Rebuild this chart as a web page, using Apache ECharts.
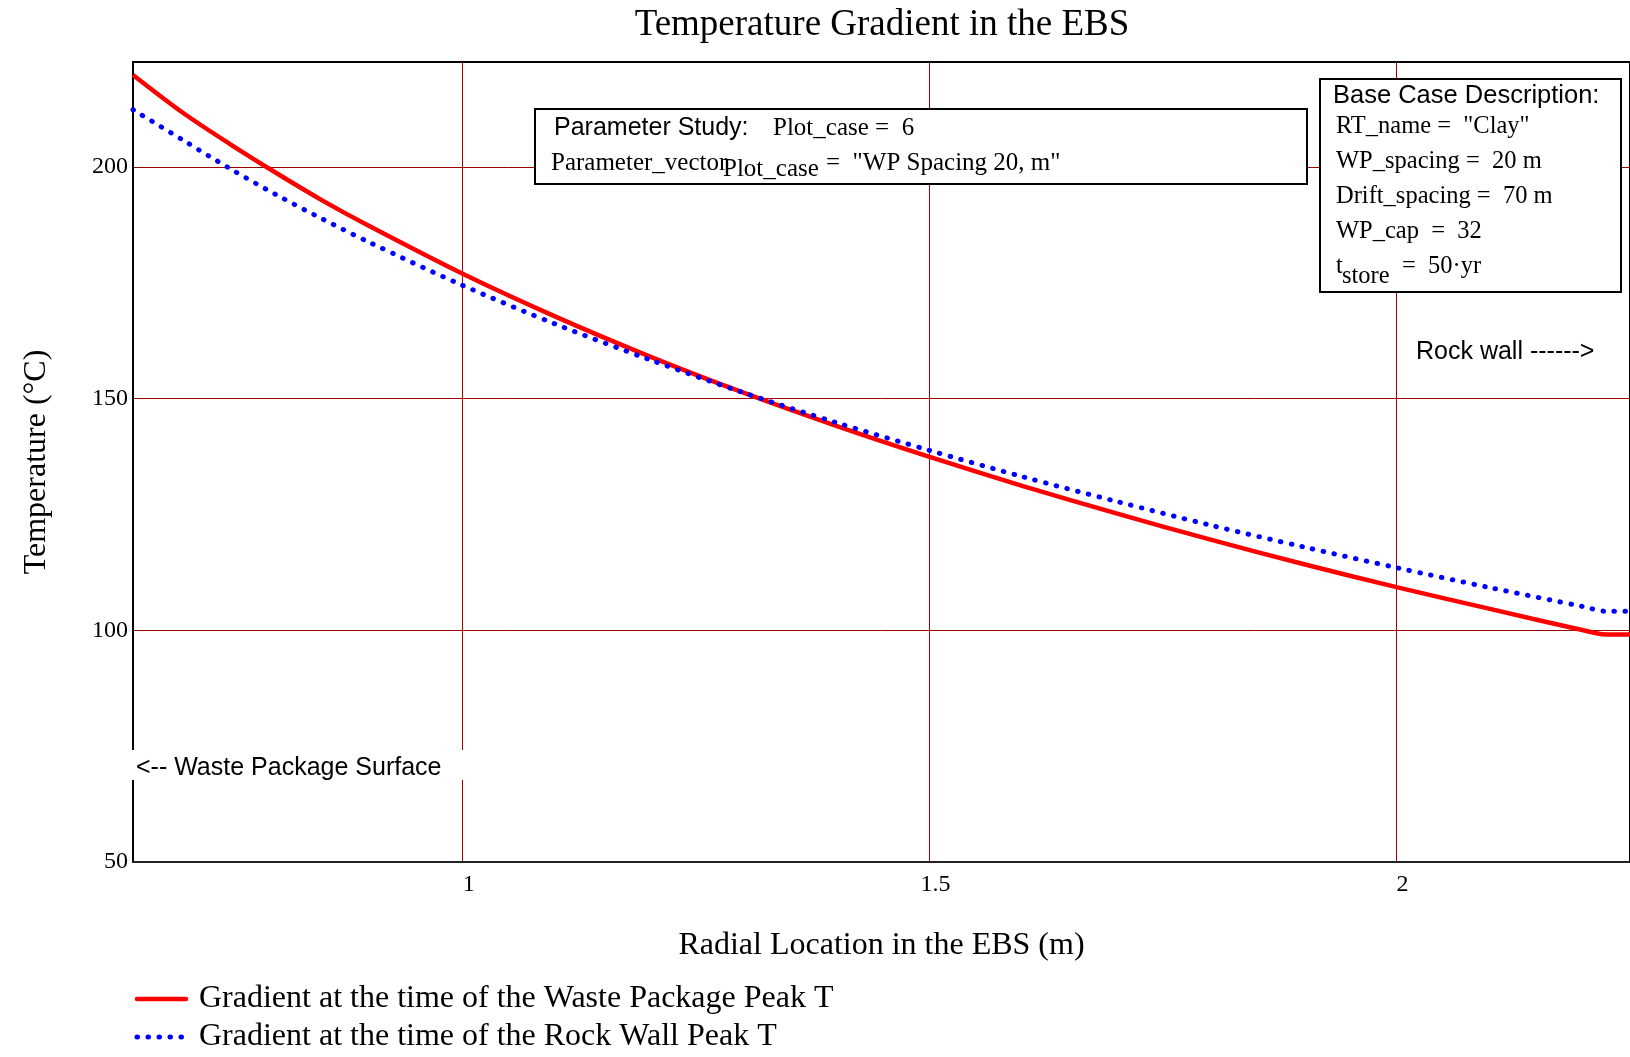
<!DOCTYPE html>
<html>
<head>
<meta charset="utf-8">
<title>Temperature Gradient in the EBS</title>
<script src="https://cdn.jsdelivr.net/npm/echarts@6/dist/echarts.min.js"></script>
<style>
  html, body { margin: 0; padding: 0; background: #fff; }
  #chart { width: 1630px; height: 1057px; }
</style>
</head>
<body>
<div id="chart"></div>
<script>
// Radial location in the EBS (m)
const radius = [0.647, 0.7, 0.75, 0.8, 0.85, 0.9, 1.0, 1.1, 1.2, 1.3, 1.4, 1.5, 1.6, 1.7, 1.8, 1.9, 2.0, 2.1, 2.2, 2.224, 2.26];
// Temperature (°C) at the time of the waste package peak
const wpPeakT = [219.8, 211.7, 205.0, 198.7, 192.7, 187.2, 176.9, 167.6, 159.1, 151.3, 144.1, 137.4, 131.1, 125.2, 119.6, 114.3, 109.3, 104.6, 100.0, 99.1, 99.1];
// Temperature (°C) at the time of the rock wall peak
const rwPeakT = [212.3, 205.8, 199.7, 194.0, 188.7, 183.7, 174.4, 166.0, 158.4, 151.3, 144.8, 138.8, 133.1, 127.8, 122.7, 118.0, 113.5, 109.2, 105.1, 104.1, 104.1];

const xTicks = [1, 1.5, 2];
const yTicks = [50, 100, 150, 200];

const seriesNames = [
  'Gradient at the time of the Waste Package Peak T',
  'Gradient at the time of the Rock Wall Peak T'
];

const SERIF = '"Liberation Serif", "Times New Roman", serif';
const SANS = '"Liberation Sans", Arial, sans-serif';
const GRID_RED = '#9a0000';
const RED = '#ff0000';
const BLUE = '#0000ff';
const RED_LINE = { color: RED, width: 4.5 };
const BLUE_LINE = { color: BLUE, width: 5, dash: [0.5, 10.5] };

function pairs(xs, ys) { return xs.map((x, i) => [x, ys[i]]); }

function txt(text, x, y, font, size) {
  return {
    type: 'text', z: 101,
    style: { text: text, x: x, y: y, fontFamily: font, fontSize: size, fill: '#000',
             textAlign: 'left', textVerticalAlign: 'middle' }
  };
}

// legend row: line sample plus its label
function legendRow(y, line, label) {
  return [
    { type: 'line', z: 101, shape: { x1: 137, y1: y, x2: 186, y2: y },
      style: { stroke: line.color, lineWidth: line.width, lineDash: line.dash || null, lineCap: 'round' } },
    txt(label, 199, y, SERIF, 32)
  ];
}

const chart = echarts.init(document.getElementById('chart'), null, { renderer: 'canvas' });

chart.setOption({
  animation: false,
  backgroundColor: '#fff',
  grid: {
    left: 133, right: -3, top: 62, bottom: 195,
    show: true, borderColor: '#000', borderWidth: 2, backgroundColor: 'transparent'
  },
  xAxis: {
    type: 'value', min: 0.647, max: 2.25,
    name: 'Radial Location in the EBS (m)', nameLocation: 'middle', nameGap: 68,
    nameTextStyle: { fontFamily: SERIF, fontSize: 32, color: '#000' },
    axisLine: { show: true, onZero: false, lineStyle: { color: '#222', width: 2 } },
    axisTick: { show: false, customValues: xTicks },
    axisLabel: { customValues: xTicks, margin: 11, padding: [0, 0, 0, 12],
                 fontFamily: SERIF, fontSize: 24, color: '#000' },
    splitLine: { show: true, lineStyle: { color: GRID_RED, width: 1 } }
  },
  yAxis: {
    type: 'value', min: 50, max: 222.6,
    name: 'Temperature (°C)', nameLocation: 'middle', nameGap: 80, nameRotate: 90,
    nameTextStyle: { fontFamily: SERIF, fontSize: 32, color: '#000' },
    axisLine: { show: true, onZero: false, lineStyle: { color: '#000', width: 2 } },
    axisTick: { show: false, customValues: yTicks },
    axisLabel: { customValues: yTicks, margin: 5, fontFamily: SERIF, fontSize: 24, color: '#000' },
    splitLine: { show: true, lineStyle: { color: GRID_RED, width: 1 } }
  },
  series: [
    {
      name: seriesNames[0], type: 'line', data: pairs(radius, wpPeakT),
      symbol: 'none', showSymbol: false, smooth: 0.3, z: 3,
      lineStyle: { color: RED_LINE.color, width: RED_LINE.width }, itemStyle: { color: RED }
    },
    {
      name: seriesNames[1], type: 'line', data: pairs(radius, rwPeakT),
      symbol: 'none', showSymbol: false, smooth: 0.3, z: 4,
      lineStyle: { color: BLUE_LINE.color, width: BLUE_LINE.width, type: BLUE_LINE.dash, cap: 'round' },
      itemStyle: { color: BLUE }
    }
  ],
  graphic: [
    {
      type: 'text', z: 101,
      style: { text: 'Temperature Gradient in the EBS', x: 882, y: 25, fontFamily: SERIF, fontSize: 37,
               fill: '#000', textAlign: 'center', textVerticalAlign: 'middle' }
    },
    // parameter study box
    { type: 'rect', z: 100, shape: { x: 535, y: 109, width: 772, height: 75 },
      style: { fill: '#fff', stroke: '#000', lineWidth: 2 } },
    txt('Parameter Study:', 554, 128, SANS, 25),
    txt('Plot_case =  6', 773, 128, SERIF, 25),
    txt('Parameter_vector', 551, 163, SERIF, 25),
    txt('Plot_case', 723, 169, SERIF, 25),
    txt('=  "WP Spacing 20, m"', 826, 163, SERIF, 25),
    // base case box
    { type: 'rect', z: 100, shape: { x: 1320, y: 79, width: 301, height: 213 },
      style: { fill: '#fff', stroke: '#000', lineWidth: 2 } },
    txt('Base Case Description:', 1333, 96, SANS, 25.5),
    txt('RT_name =  "Clay"', 1336, 127, SERIF, 24.5),
    txt('WP_spacing =  20 m', 1336, 162, SERIF, 24.5),
    txt('Drift_spacing =  70 m', 1336, 197, SERIF, 24.5),
    txt('WP_cap  =  32', 1336, 232, SERIF, 24.5),
    txt('t', 1336, 267, SERIF, 24.5),
    txt('store', 1342, 277, SERIF, 24.5),
    txt('=  50·yr', 1402, 267, SERIF, 24.5),
    // boundary annotations
    txt('Rock wall ------>', 1416, 352, SANS, 25),
    { type: 'rect', z: 100, shape: { x: 132, y: 750, width: 333, height: 30 },
      style: { fill: '#fff', stroke: null } },
    txt('<-- Waste Package Surface', 136, 768, SANS, 25),
    // legend
    ...legendRow(999, RED_LINE, seriesNames[0]),
    ...legendRow(1037, BLUE_LINE, seriesNames[1])
  ]
});
</script>
</body>
</html>
